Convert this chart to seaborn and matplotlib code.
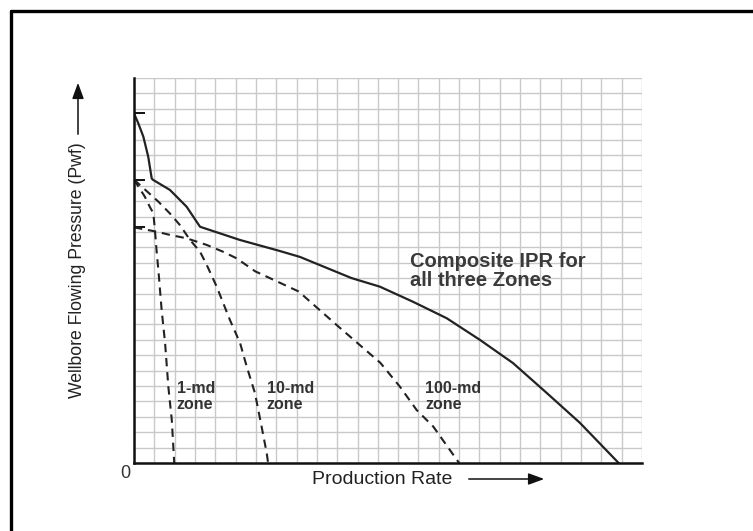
import matplotlib
matplotlib.use("Agg")
import matplotlib.pyplot as plt
from matplotlib.lines import Line2D
from matplotlib.patches import FancyArrowPatch
import seaborn as sns

sns.set_theme(style="white")
plt.rcParams["font.family"] = ["Liberation Sans", "DejaVu Sans"]

# Grid units: 25 x 25 cells on both axes
# Composite IPR for all three zones (solid)
composite_q = [0.0, 0.21, 0.46, 0.70, 0.87, 0.92, 1.77, 2.59, 3.25, 5.22, 7.14,
               8.17, 10.7, 12.1, 13.73, 15.39, 17.03, 18.65, 20.31, 21.95, 23.85]
composite_p = [22.7, 22.06, 21.19, 19.89, 18.49, 18.4, 17.73, 16.64, 15.34, 14.48, 13.78,
               13.38, 12.01, 11.45, 10.47, 9.4, 7.99, 6.49, 4.55, 2.6, 0.0]

# Individual zone IPRs (dashed)
md1_q = [0.0, 0.53, 0.79, 0.95, 1.03, 1.12, 1.2, 1.36, 1.53, 1.69, 1.86, 1.98]
md1_p = [18.4, 17.3, 16.6, 16.23, 15.13, 13.64, 12.53, 9.94, 7.79, 4.95, 2.79, 0.0]

md10_q = [0.0, 1.2, 1.77, 2.26, 2.76, 3.25, 3.58, 4.07, 4.72, 5.22, 5.55, 5.95, 6.28, 6.53, 6.6]
md10_p = [18.4, 16.97, 16.2, 15.45, 14.48, 13.72, 12.86, 11.45, 9.29, 7.79, 6.25, 4.55, 2.36, 0.65, 0.0]

md100_q = [0.0, 1.12, 1.77, 2.59, 3.58, 4.38, 5.05, 5.96, 8.1, 9.99, 12.12, 13.09, 13.91, 14.73, 16.0]
md100_p = [15.3, 15.02, 14.81, 14.59, 14.16, 13.72, 13.29, 12.45, 11.14, 8.94, 6.51, 4.95, 3.44, 2.36, 0.0]

# Reservoir pressure marks on the y axis
pressure_marks = [22.7, 18.4, 15.3]

zone_labels = ["1-md\nzone", "10-md\nzone", "100-md\nzone"]
zone_label_pos = [(2.1, 4.32), (6.53, 4.32), (14.32, 4.32)]

fig = plt.figure(figsize=(7.53, 5.31), dpi=100)
ax = fig.add_axes([134 / 753, 1 - 463 / 531, 508 / 753, 385 / 531])

ink = "#222222"
sns.lineplot(x=composite_q, y=composite_p, ax=ax, sort=False, estimator=None,
             color=ink, linewidth=1.6)
for q, p in [(md1_q, md1_p), (md10_q, md10_p), (md100_q, md100_p)]:
    sns.lineplot(x=q, y=p, ax=ax, sort=False, estimator=None,
                 color=ink, linewidth=1.5, linestyle=(0, (4.0, 2.8)))

ax.set_xlim(0, 25)
ax.set_ylim(0, 25)

# fine grid
ax.set_xticks(range(26), minor=True)
ax.set_yticks(range(26), minor=True)
ax.grid(which="minor", color="#c9c9c9", linewidth=1.0)
ax.grid(which="major", visible=False)
ax.set_axisbelow(True)
ax.set_xticks([])
ax.set_yticks(pressure_marks)
ax.set_yticklabels([])
ax.tick_params(axis="y", which="major", direction="in", length=8, width=1.4,
               color="#111111", left=True)
ax.tick_params(which="minor", length=0)

for side in ["top", "right"]:
    ax.spines[side].set_visible(False)
for side in ["left", "bottom"]:
    ax.spines[side].set_color("#111111")
    ax.spines[side].set_linewidth(1.8)
ax.set_xlabel("")
ax.set_ylabel("")

# annotations inside the plot
ax.text(13.58, 12.47, "Composite IPR for\nall three Zones", fontsize=14.5,
        fontweight="bold", color="#3a3a3a", ha="left", va="center",
        linespacing=1.0)
for lab, (x, y) in zip(zone_labels, zone_label_pos):
    ax.text(x, y, lab, fontsize=11.5, fontweight="bold", color="#333333",
            ha="left", va="center", linespacing=1.02)

# axis titles with arrows
fig.text(125 / 753, 1 - 474 / 531, "0", fontsize=13, color="#333333",
         ha="center", va="center")
fig.text(382 / 753, 1 - 479 / 531, "Production Rate", fontsize=14,
         color="#222222", ha="center", va="center")
fig.text(77 / 753, 1 - 270 / 531, "Wellbore Flowing Pressure (Pwf)", fontsize=12.7,
         color="#222222", ha="center", va="center", rotation=90)
fig.add_artist(FancyArrowPatch(
    (466 / 753, 1 - 479 / 531), (547 / 753, 1 - 479 / 531),
    transform=fig.transFigure, arrowstyle="-|>,head_length=6,head_width=2.2",
    color="#111111", linewidth=1.1, mutation_scale=1.6))
fig.add_artist(FancyArrowPatch(
    (78 / 753, 1 - 137 / 531), (78 / 753, 1 - 80 / 531),
    transform=fig.transFigure, arrowstyle="-|>,head_length=6,head_width=2.2",
    color="#111111", linewidth=1.1, mutation_scale=1.6))

# outer frame
fig.add_artist(Line2D([11 / 753, 1.0], [1 - 11 / 531, 1 - 11 / 531],
                      transform=fig.transFigure, color="black", linewidth=2.4))
fig.add_artist(Line2D([11 / 753, 11 / 753], [0.0, 1 - 11 / 531],
                      transform=fig.transFigure, color="black", linewidth=2.4))

fig.savefig("out.png", dpi=100, facecolor="white")
